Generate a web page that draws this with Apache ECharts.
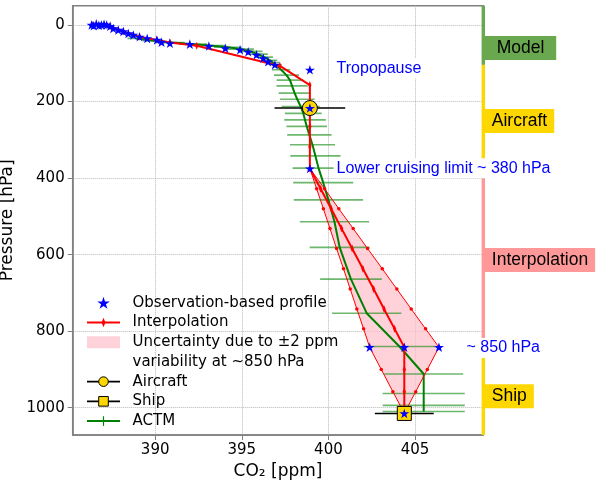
<!DOCTYPE html>
<html><head><meta charset="utf-8">
<script src="https://cdn.jsdelivr.net/npm/echarts@6/dist/echarts.min.js"></script>
<style>html,body{margin:0;padding:0;background:#fff}#c{width:600px;height:484px}</style>
</head><body><div id="c"></div>
<script>
// ---------- axes ----------
const X_MIN = 385.24, X_MAX = 408.94, P_MIN = -50.4, P_MAX = 1071.3;
const xTicks = [390, 395, 400, 405];
const pTicks = [0, 200, 400, 600, 800, 1000];

// ---------- observation-based profile (stars) ----------
const obsX = [386.33, 386.45, 386.6, 386.75, 386.9, 387.05, 387.2, 387.4, 387.58, 387.87, 388.16, 388.45, 388.74, 389.1, 389.54, 390.1, 390.37, 390.85, 392.0, 393.1, 394.05, 394.9, 395.37, 395.85, 396.24, 396.52, 396.91, 398.93, 398.93, 398.93, 402.38, 404.38, 406.38, 404.38];
const obsP = [0, 2, -3, 1, 0, -2, 0, 3, 9, 13, 17, 22, 26, 31, 35, 39, 45, 48, 50, 55, 61, 65, 70, 78, 87, 96, 104, 117, 217, 375, 842, 842, 842, 1015];

// ---------- interpolation (red) ----------
const interpX = [386.4, 387.4, 388.16, 389.1, 390.1, 390.85, 392.4, 397.2, 398.93, 398.93, 398.93, 398.93, 398.93, 399.55, 400.16, 400.76, 401.37, 401.99, 402.61, 403.21, 403.82, 404.38, 404.38, 404.38, 404.38];
const interpP = [0, 3, 17, 31, 39, 46, 54, 107, 157, 217, 265, 318, 375, 428, 480, 532, 584, 637, 690, 742, 794, 842, 900, 958, 1015];

// ---------- uncertainty envelope (±2 ppm at ~850 hPa) ----------
const uncP    = [375, 428, 480, 532, 584, 637, 690, 742, 794, 842, 900, 958, 1015];
const uncLow  = [398.93, 399.32, 399.71, 400.09, 400.47, 400.87, 401.26, 401.64, 402.03, 402.38, 403.05, 403.72, 404.38];
const uncHigh = [398.93, 399.78, 400.60, 401.43, 402.26, 403.11, 403.95, 404.78, 405.61, 406.38, 405.71, 405.04, 404.38];

// ---------- ACTM (green) ----------
const actmP = [35, 41, 46, 50, 54, 58, 63, 69, 76, 84, 92, 98, 104, 117, 131, 144, 159, 178, 194, 213, 231, 248, 265, 287, 313, 342, 374, 412, 457, 514, 581, 664, 753, 840, 912, 963, 994, 1010];
const actmX = [388.9, 389.9, 391.0, 392.2, 393.3, 394.2, 394.9, 395.5, 395.9, 396.3, 396.6, 396.8, 396.96, 397.27, 397.58, 397.78, 397.9, 398.05, 398.2, 398.4, 398.55, 398.65, 398.75, 398.9, 399.08, 399.25, 399.43, 399.7, 400.0, 400.35, 400.65, 401.3, 402.21, 404.1, 405.5, 405.5, 405.5, 405.5];
const actmErr = [0.5, 0.6, 0.7, 0.8, 0.8, 0.8, 0.8, 0.7, 0.6, 0.5, 0.45, 0.4, 0.35, 0.53, 0.72, 0.77, 0.9, 0.92, 1.0, 1.1, 1.06, 1.2, 1.17, 1.28, 1.3, 1.45, 1.5, 1.73, 2.0, 2.0, 1.73, 1.78, 2.0, 2.07, 2.28, 2.37, 2.37, 2.37];

// ---------- aircraft / ship ----------
const aircraftX = [398.93], aircraftP = [217], aircraftErr = [2.04];
const shipX = [404.38], shipP = [1015], shipErr = [1.7];

// ---------- right-hand source bands ----------
const bandNames = [' Model ', 'Aircraft', 'Interpolation', 'Ship'];
const bandStart = [P_MIN, 104, 380, 850];
const bandEnd = [104, 380, 850, P_MAX];
const bandLabelP = [60, 251, 614, 970];
const bandColors = ['#6AA84F', '#FFD700', '#FF9999', '#FFD700'];

// ---------- annotations ----------
const noteTexts = ['Tropopause', 'Lower cruising limit ~ 380 hPa', '~ 850 hPa'];
const noteX = [400.30, 400.30, 407.80];
const noteP = [113, 374, 844];

// ---------- symbols ----------
const STAR = 'path://M50,0 L61.2,34.5 L97.6,34.5 L68.2,55.9 L79.4,90.5 L50,69.1 L20.6,90.5 L31.8,55.9 L2.4,34.5 L38.8,34.5 Z';
const THIN_DIAMOND = 'path://M0,5 L0,5 M10,5 L10,5 M5,0 L7,5 L5,10 L3,5 Z';
const VBAR = 'path://M0,5 L0,5 M10,5 L10,5 M4.4,0 L5.6,0 L5.6,10 L4.4,10 Z';
const PINK = 'rgba(255,192,203,0.72)';
const TICK_FONT = 'DejaVu Sans';
const NOTE_FONT = 'Liberation Sans';

function errRow(x, p, e) {
  return [{value: [x - e, p], symbol: 'none'}, {value: [x, p]}, {value: [x + e, p], symbol: 'none'}];
}

const chart = echarts.init(document.getElementById('c'), null, {renderer: 'canvas'});

const axisCommon = {
  type: 'value',
  axisLine: {show: true, onZero: false, lineStyle: {color: '#808080', width: 1.5}},
  axisTick: {show: true, length: 5, lineStyle: {color: '#808080', width: 1}},
  splitLine: {show: true, lineStyle: {color: '#b8b8b8', type: 'dotted', width: 1}},
  nameTextStyle: {fontFamily: TICK_FONT, fontSize: 17, color: '#000'}
};

chart.setOption({
  animation: false,
  backgroundColor: '#fff',
  grid: {left: 72.7, top: 5.7, right: 116.7, bottom: 49, show: true, borderColor: '#808080', borderWidth: 1.5,
    backgroundColor: 'transparent', containLabel: false, outerBoundsMode: 'none'},
  xAxis: Object.assign({}, axisCommon, {
    min: X_MIN, max: X_MAX,
    axisTick: Object.assign({}, axisCommon.axisTick, {customValues: xTicks}),
    axisLabel: {customValues: xTicks, margin: 8, color: '#000', fontFamily: TICK_FONT, fontSize: 15, formatter: v => String(v)},
    name: 'CO₂ [ppm]', nameLocation: 'middle', nameGap: 28
  }),
  yAxis: Object.assign({}, axisCommon, {
    min: P_MIN, max: P_MAX, inverse: true,
    axisTick: Object.assign({}, axisCommon.axisTick, {customValues: pTicks}),
    axisLabel: {customValues: pTicks, margin: 8, color: '#000', fontFamily: TICK_FONT, fontSize: 15, formatter: v => String(v)},
    name: 'Pressure [hPa]', nameLocation: 'middle', nameGap: 50, nameRotate: 90
  }),
  legend: {
    orient: 'vertical', left: 86, top: 293, padding: 0, itemGap: 0,
    itemWidth: 33, itemHeight: 12, selectedMode: false,
    textStyle: {fontFamily: TICK_FONT, fontSize: 15, color: '#000', lineHeight: 19.7, padding: [0, 0, 0, 7.5]},
    data: [
      {name: 'Observation-based profile'},
      {name: 'Interpolation', itemStyle: {borderWidth: 0}, lineStyle: {width: 2}},
      {name: 'Uncertainty due to ±2 ppm', icon: 'rect', itemStyle: {color: PINK, borderWidth: 0}},
      {name: 'variability at ~850 hPa', icon: 'none'},
      {name: 'Aircraft', itemStyle: {borderWidth: 1, borderColor: '#000'}, lineStyle: {width: 1.6, color: '#000'}},
      {name: 'Ship', itemStyle: {borderWidth: 1, borderColor: '#000'}, lineStyle: {width: 1.6, color: '#000'}},
      {name: 'ACTM', itemStyle: {borderWidth: 0}, lineStyle: {width: 2}}
    ]
  },
  series: [
    {
      type: 'custom', name: 'Uncertainty due to ±2 ppm', z: 1, silent: true, clip: true,
      itemStyle: {color: PINK},
      data: [[uncLow[0], uncP[0]]],
      renderItem: function (params, api) {
        const pts = [];
        for (let i = 0; i < uncP.length; i++) pts.push(api.coord([uncLow[i], uncP[i]]));
        for (let i = uncP.length - 1; i >= 0; i--) pts.push(api.coord([uncHigh[i], uncP[i]]));
        return {type: 'polygon', shape: {points: pts}, style: {fill: PINK}};
      }
    },
    {type: 'line', name: 'variability at ~850 hPa', data: [], silent: true},
    {
      type: 'custom', name: 'bands', z: 1, silent: true, clip: false,
      data: bandNames.map((n, i) => [X_MAX, bandLabelP[i], bandStart[i], bandEnd[i]]),
      encode: {x: 0, y: 1},
      renderItem: function (params, api) {
        const i = params.dataIndex;
        const a = api.coord([X_MAX, bandStart[i]]), b = api.coord([X_MAX, bandEnd[i]]);
        const t = api.coord([X_MAX, bandLabelP[i]]);
        return {type: 'group', children: [
          {type: 'line', shape: {x1: a[0], y1: a[1], x2: b[0], y2: b[1]}, style: {stroke: bandColors[i], lineWidth: 3.4}},
          {type: 'text', x: t[0], y: t[1], style: {text: bandNames[i], fill: '#000', fontFamily: NOTE_FONT, fontSize: 17.5,
            align: 'left', verticalAlign: 'middle', backgroundColor: bandColors[i], padding: [3, 7, 3, 8.5]}}
        ]};
      }
    },
    {
      type: 'custom', name: 'ACTM error', z: 2, silent: true, clip: true,
      data: actmP.map((p, i) => [actmX[i], p, actmErr[i]]),
      encode: {x: 0, y: 1},
      renderItem: function (params, api) {
        const x = api.value(0), p = api.value(1), e = api.value(2);
        const a = api.coord([x - e, p]), b = api.coord([x + e, p]);
        return {type: 'line', shape: {x1: a[0], y1: a[1], x2: b[0], y2: b[1]}, style: {stroke: 'rgba(20,140,20,0.62)', lineWidth: 1.6}};
      }
    },
    {
      type: 'line', name: 'ACTM', z: 3, silent: true, emphasis: {disabled: true},
      data: actmP.map((p, i) => [actmX[i], p]),
      symbol: VBAR, symbolSize: 8, showSymbol: false,
      lineStyle: {color: '#008000', width: 2}, itemStyle: {color: '#008000', borderWidth: 0}
    },
    {
      type: 'line', name: 'unc-low', z: 4, silent: true, emphasis: {disabled: true},
      data: uncP.map((p, i) => [uncLow[i], p]),
      symbol: 'circle', symbolSize: 3.5, lineStyle: {color: '#ff0000', width: 1}, itemStyle: {color: '#ff0000', borderWidth: 0}
    },
    {
      type: 'line', name: 'unc-high', z: 4, silent: true, emphasis: {disabled: true},
      data: uncP.map((p, i) => [uncHigh[i], p]),
      symbol: 'circle', symbolSize: 3.5, lineStyle: {color: '#ff0000', width: 1}, itemStyle: {color: '#ff0000', borderWidth: 0}
    },
    {
      type: 'line', name: 'Interpolation', z: 5, silent: true, emphasis: {disabled: true},
      data: interpP.map((p, i) => [interpX[i], p]),
      symbol: THIN_DIAMOND, symbolSize: 8, showAllSymbol: true,
      lineStyle: {color: '#ff0000', width: 2}, itemStyle: {color: '#ff0000', borderWidth: 0}
    },
    {
      type: 'line', name: 'Aircraft', z: 6, silent: true, emphasis: {disabled: true},
      data: errRow(aircraftX[0], aircraftP[0], aircraftErr[0]),
      symbol: 'circle', symbolSize: 15, showAllSymbol: true,
      lineStyle: {color: '#000', width: 1.6}, itemStyle: {color: '#FFD700', borderColor: '#000', borderWidth: 1}
    },
    {
      type: 'line', name: 'Ship', z: 6, silent: true, emphasis: {disabled: true},
      data: errRow(shipX[0], shipP[0], shipErr[0]),
      symbol: 'rect', symbolSize: 14, showAllSymbol: true,
      lineStyle: {color: '#000', width: 1.6}, itemStyle: {color: '#FFD700', borderColor: '#000', borderWidth: 1}
    },
    {
      type: 'scatter', name: 'Observation-based profile', z: 8, silent: true,
      data: obsP.map((p, i) => [obsX[i], p]),
      symbol: STAR, symbolSize: 10, symbolKeepAspect: true,
      itemStyle: {color: '#0000ff', opacity: 1}
    },
    {
      type: 'custom', name: 'notes', z: 10, silent: true, clip: false,
      data: noteTexts.map((t, i) => [noteX[i], noteP[i]]),
      encode: {x: 0, y: 1},
      renderItem: function (params, api) {
        const i = params.dataIndex;
        const pt = api.coord([api.value(0), api.value(1)]);
        return {type: 'text', x: pt[0], y: pt[1], style: {text: noteTexts[i], fill: '#0000ff', fontFamily: NOTE_FONT, fontSize: 16,
          align: 'left', verticalAlign: 'middle', backgroundColor: '#fff', padding: [2, 3, 2, 3]}};
      }
    }
  ]
});
</script>
</body></html>
